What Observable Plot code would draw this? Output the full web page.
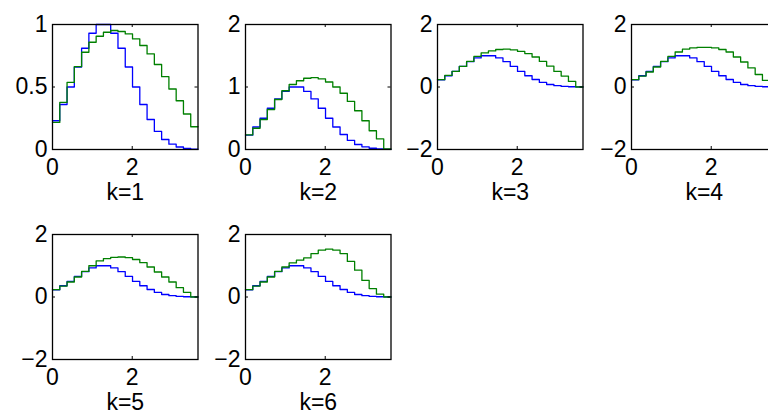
<!DOCTYPE html>
<html><head><meta charset="utf-8">
<script src="https://cdn.jsdelivr.net/npm/d3@7"></script>
<script src="https://cdn.jsdelivr.net/npm/@observablehq/plot@0.6"></script>
<style>
body{margin:0;background:#fff;}
#wrap{position:relative;width:768px;height:418px;overflow:hidden;background:#fff;}
.panel{position:absolute;}
</style></head><body><div id="wrap"></div>
<script>
// bin edges (x) shared by every panel
const xEdges = [0, 0.1825, 0.365, 0.5475, 0.73, 0.9125, 1.095, 1.2775, 1.46, 1.6425, 1.825, 2.0075, 2.19, 2.3725, 2.555, 2.7375, 2.92, 3.1025, 3.285, 3.4675, 3.65];
// blue staircase (same in all panels)
const blueVals = [0.23, 0.36, 0.50, 0.66, 0.81, 0.93, 1.0, 1.0, 0.93, 0.81, 0.66, 0.50, 0.36, 0.24, 0.145, 0.08, 0.043, 0.02, 0.008, 0.003];
// green staircases, one per panel
const greenK1 = [0.217, 0.377, 0.537, 0.663, 0.778, 0.858, 0.906, 0.938, 0.952, 0.944, 0.925, 0.885, 0.832, 0.765, 0.68, 0.583, 0.484, 0.39, 0.284, 0.182];
const greenK2 = [0.235, 0.34, 0.48, 0.64, 0.80, 0.94, 1.04, 1.10, 1.14, 1.15, 1.13, 1.08, 1.00, 0.90, 0.77, 0.62, 0.46, 0.30, 0.17, 0.01];
const greenK3 = [0.235, 0.37, 0.50, 0.66, 0.82, 0.98, 1.09, 1.155, 1.2, 1.21, 1.19, 1.14, 1.07, 0.96, 0.82, 0.67, 0.50, 0.35, 0.18, 0.0];
const greenK4 = [0.235, 0.35, 0.48, 0.64, 0.82, 0.98, 1.12, 1.21, 1.25, 1.27, 1.27, 1.25, 1.2, 1.12, 0.96, 0.80, 0.61, 0.40, 0.21, 0.05];
const greenK5 = [0.235, 0.35, 0.48, 0.64, 0.82, 1.0, 1.155, 1.23, 1.27, 1.28, 1.26, 1.2, 1.1, 0.96, 0.8, 0.64, 0.48, 0.3, 0.15, 0.0];
const greenK6 = [0.235, 0.35, 0.48, 0.64, 0.82, 0.96, 1.09, 1.18, 1.25, 1.39, 1.50, 1.53, 1.50, 1.39, 1.14, 0.86, 0.53, 0.27, 0.09, 0.0];
const panelLabels = ["k=1", "k=2", "k=3", "k=4", "k=5", "k=6"];
const xTicks = [0, 2];
const yDomains = [[0, 1], [0, 2], [-2, 2], [-2, 2], [-2, 2], [-2, 2]];
const yTicks = [[0, 0.5, 1], [0, 1, 2], [-2, 0, 2], [-2, 0, 2], [-2, 0, 2], [-2, 0, 2]];

const greens = [greenK1, greenK2, greenK3, greenK4, greenK5, greenK6];
const slots = [[0, 0], [193, 0], [385, 0], [579, 0], [0, 210], [193, 210]];
const FW = 145.5, FH = 125, FS = 23;
const wrap = document.getElementById("wrap");
const rows = (vals) => xEdges.map((x, j) => ({x, y: vals[Math.min(j, vals.length - 1)]}));
const fmt = (d) => (d < 0 ? "\u2212" + Math.abs(d) : String(d));

greens.forEach((g, i) => {
  const chart = Plot.plot({
    width: 52 + FW + 12,
    height: 24 + FH + 60,
    marginLeft: 52, marginRight: 12, marginTop: 24, marginBottom: 60,
    style: "max-width:none;font-family:'Liberation Sans',Arial,Helvetica,sans-serif;background:transparent;",
    x: {domain: [0, 3.65]},
    y: {domain: yDomains[i]},
    marks: [
      Plot.line(rows(blueVals), {x: "x", y: "y", curve: "step-after", stroke: "#0000ff", strokeWidth: 1.3}),
      Plot.line(rows(g), {x: "x", y: "y", curve: "step-after", stroke: "#008000", strokeWidth: 1.3}),
      Plot.frame({stroke: "#000", strokeWidth: 1.3}),
      Plot.tickX(xTicks, {x: d => d, insetTop: FH - 3, stroke: "#000"}),
      Plot.tickX(xTicks, {x: d => d, insetBottom: FH - 3, stroke: "#000"}),
      Plot.tickY(yTicks[i], {y: d => d, insetRight: FW - 3, stroke: "#000"}),
      Plot.tickY(yTicks[i], {y: d => d, insetLeft: FW - 3, stroke: "#000"}),
      Plot.axisX({ticks: xTicks, tickFormat: fmt, tickSize: 0, tickPadding: 9, fontSize: FS, label: null, fill: "#000"}),
      Plot.axisY({ticks: yTicks[i], tickFormat: fmt, tickSize: 0, tickPadding: 5, fontSize: FS, label: null, fill: "#000"}),
      Plot.text([panelLabels[i]], {frameAnchor: "bottom", dy: 50, fontSize: FS, fill: "#000"})
    ]
  });
  const div = document.createElement("div");
  div.className = "panel";
  div.style.left = slots[i][0] + "px";
  div.style.top = slots[i][1] + "px";
  div.appendChild(chart);
  wrap.appendChild(div);
});
</script>
</body></html>
